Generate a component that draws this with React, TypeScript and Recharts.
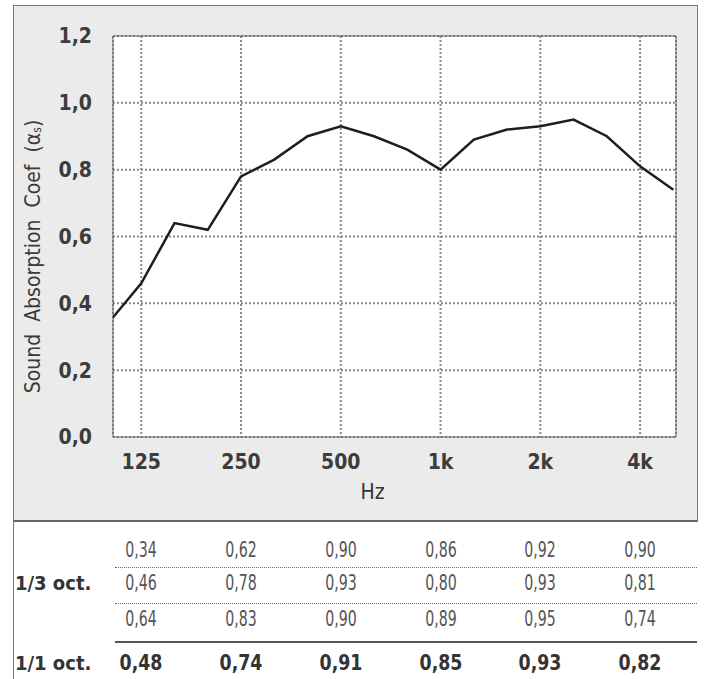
import { LineChart, Line, XAxis, YAxis, CartesianGrid, ReferenceArea, Label } from 'recharts';

// 1/3 octave band centres and measured absorption coefficients
const thirdBands = ['100', '125', '160', '200', '250', '315', '400', '500', '630', '800', '1k', '1.25k', '1.6k', '2k', '2.5k', '3.15k', '4k', '5k'];
const thirdValues = [0.34, 0.46, 0.64, 0.62, 0.78, 0.83, 0.9, 0.93, 0.9, 0.86, 0.8, 0.89, 0.92, 0.93, 0.95, 0.9, 0.81, 0.74];

// 1/1 octave bands (labels on the x axis) and their values
const octaveBands = ['125', '250', '500', '1k', '2k', '4k'];
const octaveValues = [0.48, 0.74, 0.91, 0.85, 0.93, 0.82];

const yTicks = [0, 0.2, 0.4, 0.6, 0.8, 1.0, 1.2];

const FONT = "'DejaVu Sans Condensed', 'DejaVu Sans', sans-serif";

const X_MIN = 0.15;
const X_MAX = 17.08;
const PLOT_LEFT = 113;
const PLOT_RIGHT = 676;

const chartData = thirdBands.map((band, i) => ({ idx: i, band, alpha: thirdValues[i] }));
const xTicks = octaveBands.map((b) => thirdBands.indexOf(b));

const fmt = (v: number, d: number) => v.toFixed(d).replace('.', ',');

// same mapping as the x axis, used to line the table columns up under the ticks
const colX = (idx: number) => PLOT_LEFT + ((idx - X_MIN) * (PLOT_RIGHT - PLOT_LEFT)) / (X_MAX - X_MIN);

function YTitle(props: any) {
  const { viewBox } = props;
  const cx = viewBox.x + 33;
  const cy = viewBox.y + viewBox.height / 2 + 20;
  return (
    <text
      x={cx}
      y={cy}
      transform={`rotate(-90 ${cx} ${cy})`}
      textAnchor="middle"
      dominantBaseline="central"
      fill="#3a3a3a"
      fontSize={21}
      fontFamily={FONT}
      wordSpacing={6}
    >
      Sound Absorption Coef (α
      <tspan fontSize={12} dy={4}>s</tspan>
      <tspan dy={-4}>)</tspan>
    </text>
  );
}

function XTitle(props: any) {
  const { viewBox } = props;
  return (
    <text
      x={viewBox.x + viewBox.width / 2 - 22}
      y={viewBox.y + 55}
      textAnchor="middle"
      dominantBaseline="central"
      fill="#333"
      fontSize={21}
      fontFamily={FONT}
    >
      Hz
    </text>
  );
}

const cell = {
  position: 'absolute' as const,
  width: 100,
  height: 24,
  lineHeight: '24px',
  textAlign: 'center' as const,
};

export default function App() {
  // table rows: each octave column holds its three 1/3 octave values
  const thirdRows = [0, 1, 2].map((r) => octaveBands.map((_, c) => thirdValues[c * 3 + r]));
  const rowY = [550, 583, 619];

  return (
    <div style={{ position: 'absolute', left: 0, top: 0, width: 705, height: 679, background: '#fff', overflow: 'hidden' }}>
      {/* grey chart panel */}
      <div
        style={{
          position: 'absolute',
          left: 13,
          top: 5,
          width: 683,
          height: 514,
          background: '#ebebeb',
          borderLeft: '1px solid #777',
          borderTop: '1px solid #777',
          borderRight: '1px solid #777',
          borderBottom: '2px solid #666',
        }}
      />
      <div style={{ position: 'absolute', left: 13, top: 521, width: 1, height: 158, background: '#777' }} />

      <div style={{ position: 'absolute', left: 0, top: 0 }}>
        <LineChart width={705} height={520} data={chartData} margin={{ top: 36, right: 29, bottom: 23, left: 0 }}>
          <CartesianGrid fill="#fff" stroke="#8a8a8a" strokeWidth={2} strokeDasharray="2 2" />
          <XAxis
            dataKey="idx"
            type="number"
            domain={[X_MIN, X_MAX]}
            allowDataOverflow
            ticks={xTicks}
            tickFormatter={(v: number) => thirdBands[v]}
            height={60}
            tickSize={0}
            tickMargin={17}
            axisLine={false}
            tick={{ fill: '#3c3c3c', fontSize: 21, fontWeight: 700, fontFamily: FONT }}
          >
            <Label content={XTitle} />
          </XAxis>
          <YAxis
            type="number"
            domain={[0, 1.2]}
            ticks={yTicks}
            tickFormatter={(v: number) => fmt(v, 1)}
            width={113}
            tickSize={0}
            tickMargin={21}
            axisLine={false}
            tick={{ fill: '#3c3c3c', fontSize: 21, fontWeight: 700, fontFamily: FONT }}
          >
            <Label content={YTitle} />
          </YAxis>
          <ReferenceArea x1={X_MIN} x2={X_MAX} y1={0} y2={1.2} fill="none" stroke="#666" strokeWidth={1} />
          <Line
            type="linear"
            dataKey="alpha"
            stroke="#1e1e1e"
            strokeWidth={2.5}
            dot={false}
            isAnimationActive={false}
          />
        </LineChart>
      </div>

      {/* value table */}
      <div style={{ position: 'absolute', left: 115, top: 567, width: 582, borderTop: '1px dotted #666' }} />
      <div style={{ position: 'absolute', left: 115, top: 603, width: 582, borderTop: '1px dotted #666' }} />
      <div style={{ position: 'absolute', left: 115, top: 641, width: 582, height: 2, background: '#555' }} />

      {['1/3 oct.', '1/1 oct.'].map((t, i) => (
        <div
          key={t}
          style={{
            position: 'absolute',
            left: 15,
            top: (i === 0 ? 583 : 663) - 12,
            height: 24,
            lineHeight: '24px',
            fontFamily: FONT,
            fontWeight: 700,
            fontSize: 20,
            color: '#333',
          }}
        >
          {t}
        </div>
      ))}

      {thirdRows.map((row, r) =>
        row.map((v, c) => (
          <div
            key={`t${r}-${c}`}
            style={{
              ...cell,
              left: colX(xTicks[c]) - 50,
              top: rowY[r] - 12,
              fontFamily: FONT,
              fontSize: 21,
              color: '#555',
              transform: 'scaleX(0.75)',
            }}
          >
            {fmt(v, 2)}
          </div>
        ))
      )}
      {octaveValues.map((v, c) => (
        <div
          key={`o${c}`}
          style={{
            ...cell,
            left: colX(xTicks[c]) - 50,
            top: 663 - 12,
            fontFamily: FONT,
            fontWeight: 700,
            fontSize: 21,
            color: '#333',
            transform: 'scaleX(0.92)',
          }}
        >
          {fmt(v, 2)}
        </div>
      ))}
    </div>
  );
}
